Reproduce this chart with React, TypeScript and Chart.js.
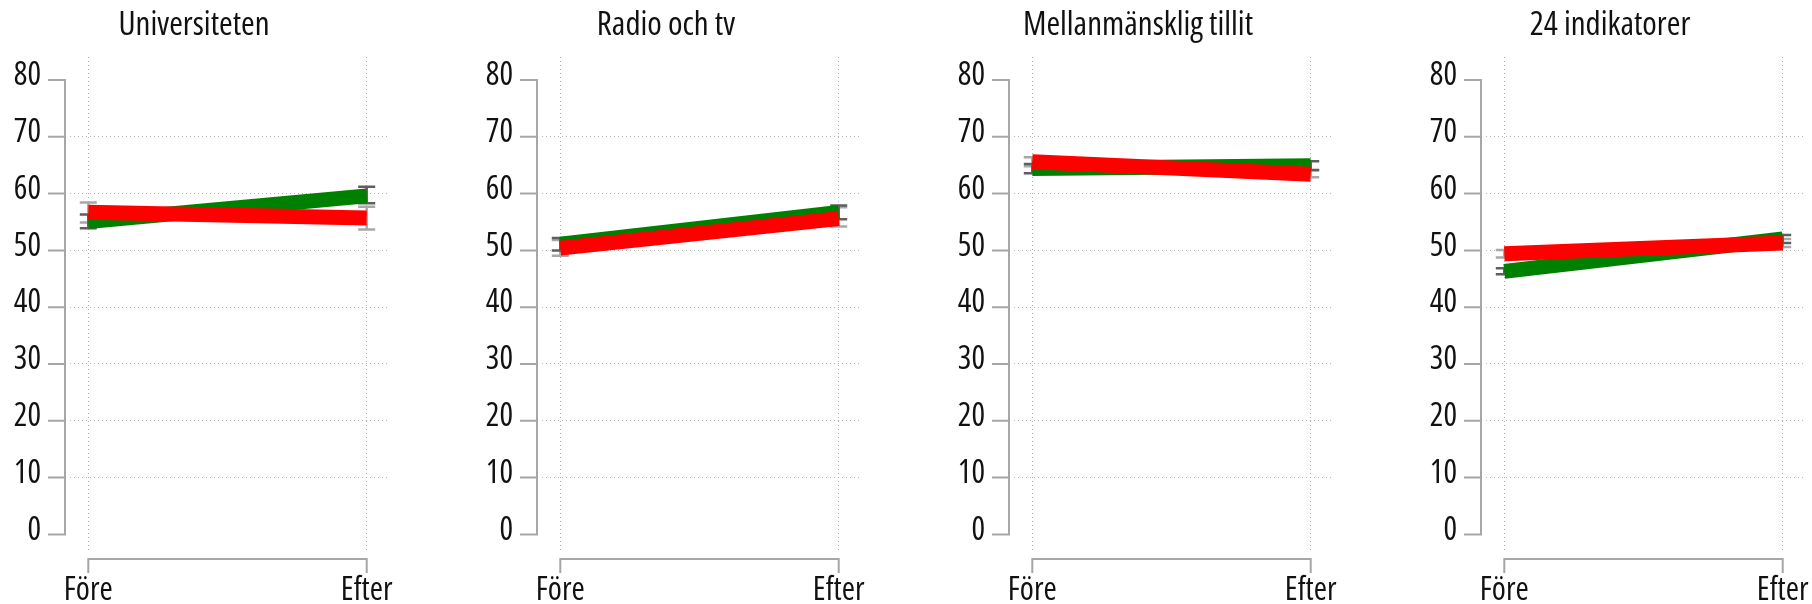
import React, { useEffect, useRef } from 'react';
import { Chart, registerables } from 'chart.js';

Chart.register(...registerables);

// ---------- data ----------
const CATEGORIES = ['Före', 'Efter'];
const PANEL_TITLES = ['Universiteten', 'Radio och tv', 'Mellanmänsklig tillit', '24 indikatorer'];
const Y_TICKS = [0, 10, 20, 30, 40, 50, 60, 70, 80];

const GREEN_VALUES = [
  [55.1, 59.6],
  [51.1, 56.7],
  [64.4, 64.9],
  [46.3, 52.0],
];
const RED_VALUES = [
  [56.7, 55.7],
  [50.4, 55.6],
  [65.6, 63.4],
  [49.4, 51.3],
];
const GREEN_LOW = [
  [53.9, 58.3],
  [50.0, 55.5],
  [63.6, 64.1],
  [45.8, 51.3],
];
const GREEN_HIGH = [
  [56.3, 61.2],
  [52.2, 57.9],
  [65.2, 65.7],
  [46.85, 52.7],
];
const RED_LOW = [
  [54.9, 53.7],
  [49.05, 54.2],
  [64.8, 62.9],
  [48.75, 50.6],
];
const RED_HIGH = [
  [58.45, 57.7],
  [51.85, 57.6],
  [66.4, 64.2],
  [50.05, 52.0],
];

// ---------- style ----------
const FONT = "'Open Sans', 'DejaVu Sans Condensed', sans-serif";
// weight + font-stretch, passed through the weight slot of Chart.js's font string
const FONT_WEIGHT = '400 condensed';
const TEXT_COLOR = '#111111';
const GREEN = '#008000';
const RED = '#ff0000';
const ERR_DARK = '#5e5e5e';
const ERR_LIGHT = '#a8a8a8';
const AXIS_COLOR = '#a6a6a6';
const GRID_COLOR = '#b4b4b4';
const PANEL_STEP = 472;
const CANVAS_W = 400;
const CANVAS_H = 604;

function Panel({ index }: { index: number }) {
  const ref = useRef<HTMLCanvasElement>(null);

  useEffect(() => {
    const canvas = ref.current;
    if (!canvas) return;

    const decorations = {
      id: 'decorations',
      beforeDatasetsDraw(chart: any) {
        const { ctx } = chart;
        const xs = chart.scales.x;
        const ys = chart.scales.y;
        const cap = 8.5;
        const draw = (lows: number[], highs: number[], color: string) => {
          ctx.save();
          ctx.strokeStyle = color;
          ctx.lineWidth = 2.5;
          ctx.lineCap = 'butt';
          lows.forEach((lo, i) => {
            const x = xs.getPixelForValue(i);
            const y1 = ys.getPixelForValue(lo);
            const y2 = ys.getPixelForValue(highs[i]);
            ctx.beginPath();
            ctx.moveTo(x, y1);
            ctx.lineTo(x, y2);
            ctx.moveTo(x - cap, y1);
            ctx.lineTo(x + cap, y1);
            ctx.moveTo(x - cap, y2);
            ctx.lineTo(x + cap, y2);
            ctx.stroke();
          });
          ctx.restore();
        };
        draw(RED_LOW[index], RED_HIGH[index], ERR_LIGHT);
        draw(GREEN_LOW[index], GREEN_HIGH[index], ERR_DARK);
      },
      afterDraw(chart: any) {
        const { ctx, chartArea } = chart;
        const xs = chart.scales.x;
        const ys = chart.scales.y;
        ctx.save();
        ctx.strokeStyle = AXIS_COLOR;
        ctx.lineWidth = 2;
        ctx.lineCap = 'butt';
        const ax = chartArea.left - 5;
        const yTop = ys.getPixelForValue(Y_TICKS[Y_TICKS.length - 1]);
        const yBot = ys.getPixelForValue(Y_TICKS[0]);
        ctx.beginPath();
        ctx.moveTo(ax, yTop - 1);
        ctx.lineTo(ax, yBot + 1);
        Y_TICKS.forEach((v) => {
          const y = ys.getPixelForValue(v);
          ctx.moveTo(ax, y);
          ctx.lineTo(ax - 17, y);
        });
        ctx.stroke();
        const ay = chartArea.bottom + 7;
        const x0 = xs.getPixelForValue(0);
        const x1 = xs.getPixelForValue(CATEGORIES.length - 1);
        ctx.beginPath();
        ctx.moveTo(x0 - 1, ay);
        ctx.lineTo(x1 + 1, ay);
        CATEGORIES.forEach((_, i) => {
          const x = xs.getPixelForValue(i);
          ctx.moveTo(x, ay);
          ctx.lineTo(x, ay + 14);
        });
        ctx.stroke();
        ctx.restore();
      },
    };

    const tickFont = { family: FONT, size: 32, weight: FONT_WEIGHT };

    const chart = new Chart(canvas, {
      type: 'line',
      data: {
        datasets: [
          {
            label: 'red',
            data: RED_VALUES[index].map((v, i) => ({ x: i, y: v })),
            borderColor: RED,
            backgroundColor: RED,
            borderWidth: 15,
            borderCapStyle: 'butt',
            pointRadius: 0,
            tension: 0,
          },
          {
            label: 'green',
            data: GREEN_VALUES[index].map((v, i) => ({ x: i, y: v })),
            borderColor: GREEN,
            backgroundColor: GREEN,
            borderWidth: 15,
            borderCapStyle: 'butt',
            pointRadius: 0,
            tension: 0,
          },
        ],
      },
      options: {
        animation: false,
        responsive: false,
        events: [],
        layout: { padding: { left: 0, right: 12, top: 0, bottom: 0 } },
        plugins: {
          legend: { display: false },
          tooltip: { enabled: false },
          title: {
            display: true,
            text: PANEL_TITLES[index],
            color: TEXT_COLOR,
            font: { family: FONT, size: 33, weight: FONT_WEIGHT },
            padding: { top: 6, bottom: 11.4 },
          },
        },
        scales: {
          x: {
            type: 'linear',
            min: -0.0657,
            max: 1.0765,
            afterBuildTicks: (s: any) => {
              s.ticks = CATEGORIES.map((_, i) => ({ value: i }));
            },
            afterFit: (s: any) => {
              s.height = 52;
            },
            ticks: {
              callback: (v: any) => CATEGORIES[Math.round(Number(v))],
              font: tickFont,
              color: TEXT_COLOR,
              padding: 0,
              autoSkip: false,
              maxRotation: 0,
            },
            grid: {
              color: GRID_COLOR,
              lineWidth: 1,
              drawTicks: true,
              tickLength: 19.5,
              tickColor: 'rgba(0,0,0,0)',
            },
            border: { display: false, dash: [1, 3] },
          },
          y: {
            type: 'linear',
            min: -3.1,
            max: 84.05,
            afterBuildTicks: (s: any) => {
              s.ticks = Y_TICKS.map((v) => ({ value: v }));
            },
            afterFit: (s: any) => {
              s.width = 70;
            },
            ticks: {
              font: tickFont,
              color: TEXT_COLOR,
              padding: 0,
              labelOffset: -4,
            },
            grid: {
              color: (c: any) =>
                c.tick && (c.tick.value === Y_TICKS[0] || c.tick.value === Y_TICKS[Y_TICKS.length - 1])
                  ? 'rgba(0,0,0,0)'
                  : GRID_COLOR,
              lineWidth: 1,
              drawTicks: true,
              tickLength: 29,
              tickColor: 'rgba(0,0,0,0)',
            },
            border: { display: false, dash: [1, 3] },
          },
        },
      },
      plugins: [decorations],
    } as any);

    return () => chart.destroy();
  }, [index]);

  return (
    <canvas
      ref={ref}
      width={CANVAS_W}
      height={CANVAS_H}
      style={{ position: 'absolute', left: index * PANEL_STEP, top: 0, width: CANVAS_W, height: CANVAS_H }}
    />
  );
}

export default function App() {
  return (
    <div
      style={{
        position: 'fixed',
        left: 0,
        top: 0,
        width: 1812,
        height: 604,
        overflow: 'hidden',
        background: '#ffffff',
      }}
    >
      {PANEL_TITLES.map((_, i) => (
        <Panel key={i} index={i} />
      ))}
    </div>
  );
}
